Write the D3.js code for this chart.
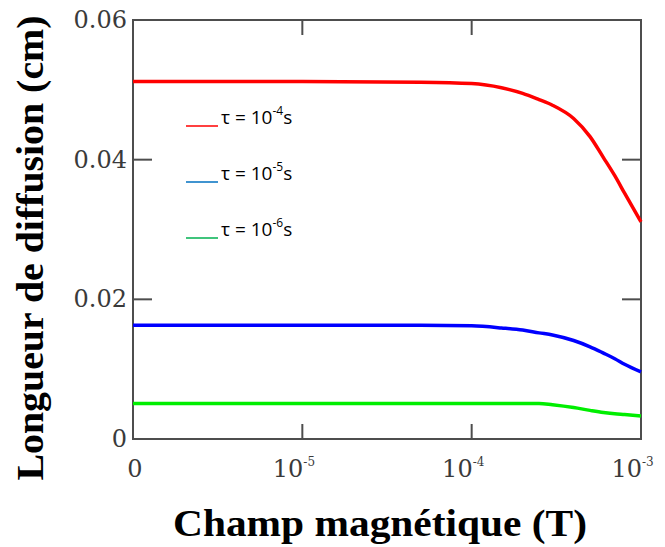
<!DOCTYPE html>
<html>
<head>
<meta charset="utf-8">
<script src="https://cdn.jsdelivr.net/npm/d3@7"></script>
<style>
  html, body { margin: 0; padding: 0; background: #fff; }
  svg { display: block; }
  .tick_label { font-family: "DejaVu Serif", serif; font-size: 24px; fill: #3a3a3a; }
  .axis_title { font-family: "Liberation Serif", "Times New Roman", serif; font-weight: bold; fill: #000; }
  .legend_text { font-family: "Open Sans", "Liberation Sans", sans-serif; font-size: 19px; fill: #000; }
</style>
</head>
<body>
<svg id="chart" width="665" height="547"></svg>
<script>
  /*
   * Data
   */

  // Magnetic field (T); the leftmost point sits at the "0" tick (10^-6 on the log axis)
  var FIELD = [1e-6, 1e-5, 5e-5, 1e-4, 1.5e-4, 2e-4, 2.5e-4, 3e-4, 4e-4, 5e-4, 6e-4, 7e-4, 8e-4, 1e-3];

  // Diffusion length (cm) for each lifetime
  var L_TAU4 = [0.0512, 0.0512, 0.0511, 0.0509, 0.0503, 0.0495, 0.0486, 0.0478, 0.0459, 0.0433, 0.0403, 0.0377, 0.0352, 0.0311];
  var L_TAU5 = [0.0163, 0.0163, 0.0163, 0.0162, 0.0159, 0.0156, 0.0152, 0.0149, 0.0141, 0.0132, 0.0123, 0.0115, 0.0107, 0.0096];
  var L_TAU6 = [0.0051, 0.0051, 0.0051, 0.0051, 0.0051, 0.0051, 0.0051, 0.0049, 0.0045, 0.0041, 0.0038, 0.0036, 0.0035, 0.0033];

  var SERIES_NAMES = ["-4", "-5", "-6"];
  var SERIES_VALUES = [L_TAU4, L_TAU5, L_TAU6];
  var LINE_COLORS = ["#ff0000", "#0000ff", "#00ee00"];
  var LEGEND_COLORS = ["#ff0000", "#0070c0", "#00b050"];

  // Ticks
  var X_TICKS = [1e-6, 1e-5, 1e-4, 1e-3];
  var X_TICK_POWERS = [null, "-5", "-4", "-3"];
  var Y_TICKS = [0, 0.02, 0.04, 0.06];
  var Y_TICK_LABELS = ["0", "0.02", "0.04", "0.06"];

  /*
   * Layout
   */

  var LEFT = 133, RIGHT = 641, TOP = 20, BOTTOM = 439;
  var X_TICK_LEN = 15;
  var Y_TICK_LEN = 19;
  var FRAME_COLOR = "#4d4d4d";

  var svg = d3.select("#chart");

  var x = d3.scaleLog().domain([1e-6, 1e-3]).range([LEFT, RIGHT]);
  var y = d3.scaleLinear().domain([0, 0.06]).range([BOTTOM, TOP]);

  /*
   * Frame and inward ticks
   */

  var frame = svg.append("g").attr("class", "frame");

  frame.append("rect")
    .attr("x", LEFT)
    .attr("y", TOP)
    .attr("width", RIGHT - LEFT)
    .attr("height", BOTTOM - TOP)
    .attr("fill", "none")
    .attr("stroke", FRAME_COLOR)
    .attr("stroke-width", 2);

  // x ticks, bottom and top, pointing inside
  var xt = X_TICKS.slice(1);
  frame.selectAll(".xtick_b")
    .data(xt)
  .enter().append("line")
    .attr("class", "xtick_b")
    .attr("x1", function (d) { return x(d); })
    .attr("x2", function (d) { return x(d); })
    .attr("y1", BOTTOM)
    .attr("y2", BOTTOM - X_TICK_LEN)
    .attr("stroke", FRAME_COLOR)
    .attr("stroke-width", 2);
  frame.selectAll(".xtick_t")
    .data(xt)
  .enter().append("line")
    .attr("class", "xtick_t")
    .attr("x1", function (d) { return x(d); })
    .attr("x2", function (d) { return x(d); })
    .attr("y1", TOP)
    .attr("y2", TOP + X_TICK_LEN)
    .attr("stroke", FRAME_COLOR)
    .attr("stroke-width", 2);

  // y ticks, left and right
  var yt = Y_TICKS.slice(1, 3);
  frame.selectAll(".ytick_l")
    .data(yt)
  .enter().append("line")
    .attr("class", "ytick_l")
    .attr("x1", LEFT)
    .attr("x2", LEFT + Y_TICK_LEN)
    .attr("y1", function (d) { return y(d); })
    .attr("y2", function (d) { return y(d); })
    .attr("stroke", FRAME_COLOR)
    .attr("stroke-width", 2);
  frame.selectAll(".ytick_r")
    .data(yt)
  .enter().append("line")
    .attr("class", "ytick_r")
    .attr("x1", RIGHT)
    .attr("x2", RIGHT - Y_TICK_LEN)
    .attr("y1", function (d) { return y(d); })
    .attr("y2", function (d) { return y(d); })
    .attr("stroke", FRAME_COLOR)
    .attr("stroke-width", 2);

  /*
   * Tick labels
   */

  svg.selectAll(".ylabel")
    .data(Y_TICKS)
  .enter().append("text")
    .attr("class", "tick_label ylabel")
    .attr("x", LEFT - 6)
    .attr("y", function (d) { return y(d) + 8; })
    .attr("text-anchor", "end")
    .text(function (d, i) { return Y_TICK_LABELS[i]; });

  var xl = svg.selectAll(".xlabel")
    .data(X_TICKS)
  .enter().append("g")
    .attr("class", "xlabel")
    .attr("transform", function (d) { return "translate(" + x(d) + "," + 477 + ")"; });

  xl.append("text")
    .attr("class", "tick_label")
    .attr("x", function (d, i) { return X_TICK_POWERS[i] ? 1 : 2; })
    .attr("text-anchor", function (d, i) { return X_TICK_POWERS[i] ? "end" : "middle"; })
    .text(function (d, i) { return X_TICK_POWERS[i] ? "10" : "0"; });

  xl.filter(function (d, i) { return X_TICK_POWERS[i]; })
    .append("text")
    .attr("class", "tick_label")
    .attr("x", 1)
    .attr("y", -11)
    .style("font-size", "12px")
    .text(function (d) { return X_TICK_POWERS[X_TICKS.indexOf(d)].replace("-", "\u2010"); });

  /*
   * Curves
   */

  var line = d3.line()
    .x(function (d, i) { return x(FIELD[i]); })
    .y(function (d) { return y(d); })
    .curve(d3.curveMonotoneX);

  svg.selectAll(".curve")
    .data(SERIES_VALUES)
  .enter().append("path")
    .attr("class", "curve")
    .attr("d", line)
    .attr("fill", "none")
    .attr("stroke", function (d, i) { return LINE_COLORS[i]; })
    .attr("stroke-width", 3.5);

  /*
   * Legend
   */

  var legend = svg.selectAll(".legend_row")
    .data(SERIES_NAMES)
  .enter().append("g")
    .attr("class", "legend_row")
    .attr("transform", function (d, i) { return "translate(186," + (126 + i * 56) + ")"; });

  legend.append("line")
    .attr("x1", 0)
    .attr("x2", 32)
    .attr("y1", 0)
    .attr("y2", 0)
    .attr("stroke", function (d, i) { return LEGEND_COLORS[i]; })
    .attr("stroke-width", 1.5);

  var lt = legend.append("text")
    .attr("class", "legend_text")
    .attr("x", 35)
    .attr("y", -2);
  lt.append("tspan").text("\u03c4 = 10");
  lt.append("tspan")
    .attr("dy", -9)
    .style("font-size", "12px")
    .text(function (d) { return d; });
  lt.append("tspan")
    .attr("dy", 9)
    .text("s");

  /*
   * Axis titles
   */

  svg.append("text")
    .attr("class", "axis_title")
    .attr("x", 380)
    .attr("y", 536)
    .attr("text-anchor", "middle")
    .attr("textLength", 414)
    .attr("lengthAdjust", "spacingAndGlyphs")
    .style("font-size", "37px")
    .text("Champ magnétique (T)");

  svg.append("text")
    .attr("class", "axis_title")
    .attr("transform", "translate(43,248) rotate(-90)")
    .attr("text-anchor", "middle")
    .attr("textLength", 465)
    .attr("lengthAdjust", "spacingAndGlyphs")
    .style("font-size", "38px")
    .text("Longueur de diffusion (cm)");
</script>
</body>
</html>
